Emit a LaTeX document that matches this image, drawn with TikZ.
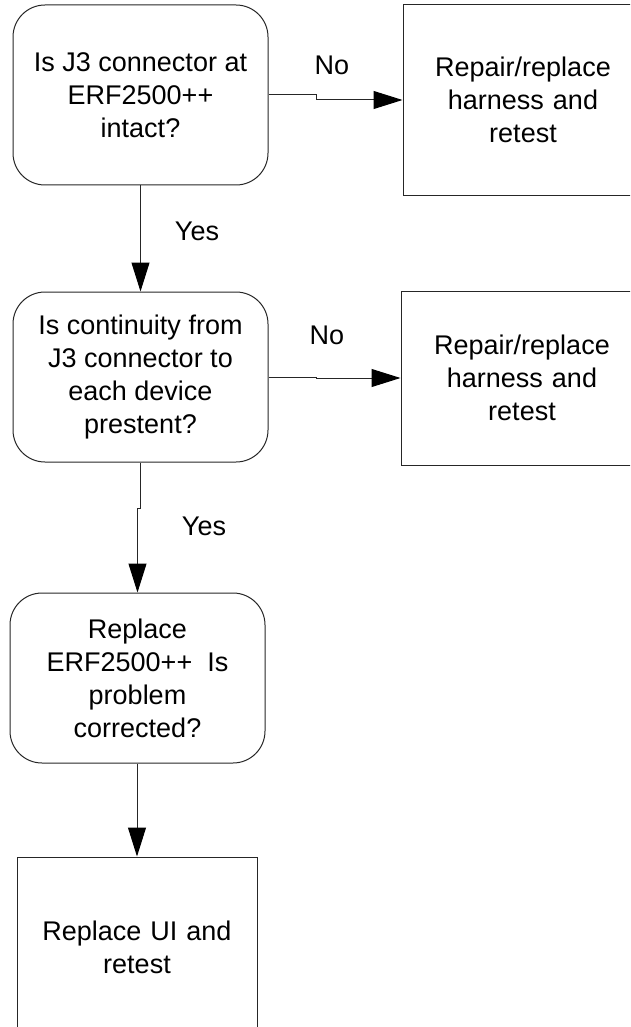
\documentclass[tikz,border=0pt]{standalone}
\usepackage{fontspec}
\setmainfont{Liberation Sans}
\usetikzlibrary{arrows.meta}
\begin{document}
\begin{tikzpicture}[x=1pt,y=-1pt,
  txt/.style={font=\fontsize{27}{33}\selectfont, align=center, inner sep=0pt},
  decision/.style={txt, draw=black!85, line width=1pt, rounded corners=32pt, minimum width=255pt},
  action/.style={txt, draw=black!85, line width=1pt, minimum width=240pt},
  conn/.style={draw=black!85, line width=1pt, -{Triangle[length=29pt,width=18pt,color=black]}},
  lbl/.style={font=\fontsize{27}{30}\selectfont, inner sep=0pt}]
\useasboundingbox (0,0) rectangle (630,1027);
\clip (0,0) rectangle (630,1027);
\node[decision, minimum height=180pt] (b1) at (140.5,95) {Is J3 connector at\\ERF2500++\\intact?};
\node[action, minimum width=240pt, minimum height=190pt, text width=230pt] (r1) at (523,100) {Repair/replace\\harness and\\retest};
\node[decision, minimum height=170pt] (b2) at (140.5,377) {Is continuity from\\J3 connector to\\each device\\prestent?};
\node[action, minimum width=242pt, minimum height=174pt, text width=230pt] (r2) at (522,378) {Repair/replace\\harness and\\retest};
\node[decision, minimum height=170pt] (b3) at (137.5,678) {Replace\\ERF2500++\ \ Is\\problem\\corrected?};
\node[action, minimum width=240pt, minimum height=180pt, text width=230pt] (b4) at (137,947) {Replace UI and\\retest};
\draw[conn] (b1.east) -- ++(48,0) |- (r1.west);
\draw[conn] (b2.east) -- ++(48,0) |- (r2.west);
\draw[conn] (b1.south) -- (b2.north);
\draw[conn] (b2.south) -- ++(0,46) -| (b3.north);
\draw[conn] (b3.south) -- ++(0,47) -| (b4.north);
\node[lbl] (no1) at (332,65) {No};
\node[lbl] (no2) at (327,335) {No};
\node[lbl] (yes1) at (197,231) {Yes};
\node[lbl] (yes2) at (204,526) {Yes};
\end{tikzpicture}
\end{document}
